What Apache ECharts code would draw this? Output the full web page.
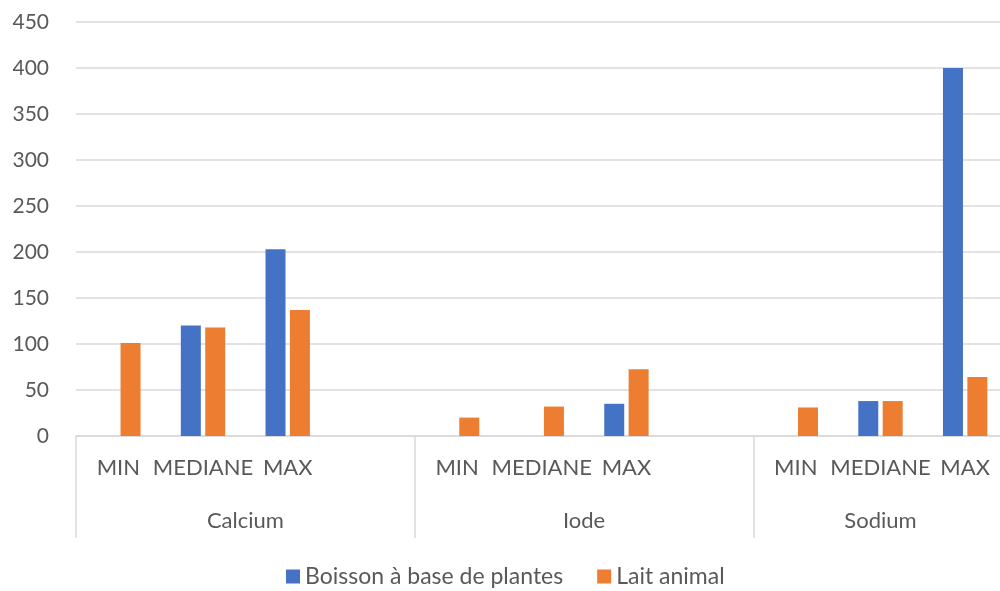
<!DOCTYPE html>
<html>
<head>
<meta charset="utf-8">
<script src="https://cdn.jsdelivr.net/npm/echarts@6/dist/echarts.min.js"></script>
<style>
  html, body { margin: 0; padding: 0; background: #fff; }
  #main { width: 1000px; height: 591px; }
</style>
</head>
<body>
<div id="main"></div>
<script>
const chart = echarts.init(document.getElementById("main"));

// sub-categories, with an empty slot after each group (like the Excel sheet)
const categories = ["MIN", "MEDIANE", "MAX", "", "MIN", "MEDIANE", "MAX", "", "MIN", "MEDIANE", "MAX"];
const groups = ["Calcium", "Iode", "Sodium"];
const groupSizes = [4, 4, 3];
const plantes = [0, 120, 203, null, 0, 0, 35, null, 0, 38, 400];
const lait = [101, 118, 137, null, 20, 32, 72.5, null, 31, 38, 64];
const yTicks = [0, 450, 50];

// group label centres and separator positions, in slot units
const groupCenters = new Map();
let start = 0;
groups.forEach((g, i) => {
    groupCenters.set(start + groupSizes[i] / 2, g);
    start += groupSizes[i];
});
const total = start;

const font = "Lato";
const textColor = "#595959";
const lineColor = "#d9d9d9";

const option = {
    animation: false,
    textStyle: { fontFamily: font },
    legend: {
        left: 286,
        top: 565,
        padding: 0,
        itemWidth: 14,
        itemHeight: 14,
        itemGap: 34,
        icon: "rect",
        textStyle: { color: textColor, fontSize: 23, fontFamily: font },
    },
    grid: { left: 76, right: -7.5, top: 22, bottom: 155, outerBoundsMode: "none" },
    xAxis: [
        {
            type: "category",
            data: categories,
            axisLine: { lineStyle: { color: lineColor, width: 1.5 } },
            axisTick: { show: false },
            axisLabel: { interval: 0, color: textColor, fontSize: 22, margin: 21 },
        },
        {
            // group separators
            type: "value",
            min: 0,
            max: total,
            interval: 4,
            position: "bottom",
            axisLine: { show: false },
            splitLine: { show: false },
            axisTick: { show: true, length: 102, lineStyle: { color: lineColor, width: 1.5 } },
            axisLabel: { show: false },
        },
        {
            // group names
            type: "value",
            min: 0,
            max: total,
            interval: 0.5,
            position: "bottom",
            axisLine: { show: false },
            splitLine: { show: false },
            axisTick: { show: false },
            axisLabel: {
                color: textColor,
                fontSize: 22,
                margin: 74,
                showMinLabel: true,
                showMaxLabel: true,
                formatter: (v) => groupCenters.get(v) || "",
            },
        },
    ],
    yAxis: {
        type: "value",
        min: yTicks[0],
        max: yTicks[1],
        interval: yTicks[2],
        axisLine: { show: false },
        axisTick: { show: false },
        splitLine: { lineStyle: { color: lineColor, width: 1.5 } },
        axisLabel: { color: textColor, fontSize: 21, margin: 27 },
    },
    series: [
        {
            name: "Boisson à base de plantes",
            type: "bar",
            data: plantes,
            barWidth: 20,
            barGap: "22%",
            itemStyle: { color: "#4472C4" },
        },
        {
            name: "Lait animal",
            type: "bar",
            data: lait,
            barWidth: 20,
            itemStyle: { color: "#ED7D31" },
        },
    ],
};

chart.setOption(option);
</script>
</body>
</html>
